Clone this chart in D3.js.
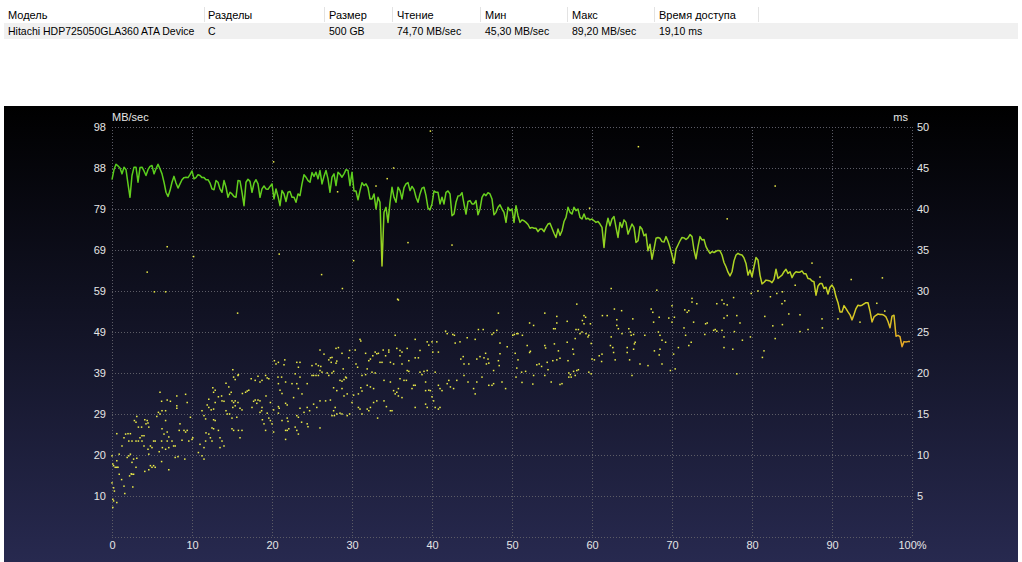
<!DOCTYPE html>
<html>
<head>
<meta charset="utf-8">
<script src="https://cdn.jsdelivr.net/npm/d3@7"></script>
<style>
  body { margin: 0; background: #fff; }
  svg text { font-family: "Liberation Sans", Arial, sans-serif; }
</style>
</head>
<body>
<div id="chart"></div>
<script>
const width = 1022;
const height = 562;
const plot = { left: 112, right: 912, top: 127, bottom: 537 };

// table data
const tableColumns = ["Модель", "Разделы", "Размер", "Чтение", "Мин", "Макс", "Время доступа"];
const tableRow = ["Hitachi HDP725050GLA360 ATA Device", "C", "500 GB", "74,70 MB/sec", "45,30 MB/sec", "89,20 MB/sec", "19,10 ms"];

// axis labels
const speedTickLabels = ["10", "20", "29", "39", "49", "59", "69", "79", "88", "98"];
const msTicks = [5, 10, 15, 20, 25, 30, 35, 40, 45, 50];
const posTicks = [0, 10, 20, 30, 40, 50, 60, 70, 80, 90, 100];

// read speed, MB/sec, one sample every 0.25 % of the disk
const readStep = 0.25;
const readSpeed = [
  85.4, 87.8, 89.1, 88.7, 88.2, 86.8, 88.4, 87.8, 84.4, 81.2,
  86.4, 88.4, 88.4, 84.8, 88.3, 88.4, 87.5, 86.4, 87.8, 88.6,
  88.8, 86.8, 88.0, 89.1, 88.0, 86.8, 84.8, 82.4, 81.4, 82.8,
  84.8, 86.2, 84.6, 83.4, 84.4, 85.4, 85.9, 86.0, 85.9, 86.6,
  87.5, 85.6, 85.9, 86.6, 86.4, 85.9, 85.9, 85.4, 85.4, 84.6,
  83.2, 83.0, 85.2, 84.8, 83.2, 82.4, 85.2, 83.6, 81.2, 82.4,
  82.0, 81.4, 81.2, 85.2, 85.1, 82.4, 79.2, 84.8, 85.5, 85.0,
  82.4, 84.6, 85.4, 84.4, 81.2, 83.2, 83.9, 83.2, 83.1, 83.8,
  84.4, 80.8, 83.2, 81.4, 79.2, 82.8, 82.0, 80.2, 82.4, 82.6,
  81.2, 81.2, 80.0, 82.0, 81.6, 84.4, 86.6, 86.0, 85.2, 84.8,
  87.1, 86.2, 87.2, 85.6, 87.6, 84.4, 86.2, 87.6, 85.6, 82.4,
  86.0, 86.8, 84.0, 87.2, 86.7, 86.0, 86.8, 87.8, 87.6, 84.0,
  87.2, 82.7, 82.7, 80.6, 82.8, 84.7, 84.0, 84.4, 83.5, 80.8,
  80.8, 82.0, 78.4, 81.2, 80.0, 64.8, 77.6, 78.8, 75.2, 80.0,
  83.6, 81.2, 80.0, 83.6, 82.8, 80.8, 83.5, 84.4, 84.7, 82.8,
  83.8, 83.1, 81.2, 80.0, 82.0, 83.4, 83.6, 81.6, 78.6, 78.2,
  79.6, 82.7, 82.4, 82.4, 79.6, 81.2, 79.6, 82.4, 82.7, 82.0,
  76.8, 77.2, 80.0, 81.5, 81.6, 82.3, 79.6, 77.2, 80.2, 80.4,
  79.6, 79.6, 80.4, 77.0, 78.4, 81.2, 82.0, 81.6, 82.3, 82.0,
  80.8, 77.0, 77.6, 78.8, 79.4, 78.4, 77.6, 75.2, 78.8, 78.0,
  78.4, 75.2, 79.2, 76.8, 75.2, 75.8, 75.6, 75.2, 74.7, 73.8,
  74.0, 73.8, 73.8, 73.0, 73.6, 73.6, 73.0, 74.0, 74.8, 75.0,
  73.8, 72.6, 71.6, 73.6, 72.1, 73.2, 75.4, 76.4, 78.8, 77.6,
  77.2, 78.8, 78.0, 78.4, 76.4, 76.0, 77.2, 76.0, 76.2, 75.8,
  76.0, 75.6, 75.2, 75.4, 74.8, 74.0, 69.2, 74.0, 76.2, 74.4,
  76.0, 76.6, 74.0, 71.6, 75.2, 74.0, 75.8, 75.2, 72.4, 73.6,
  74.8, 74.0, 70.4, 70.8, 74.2, 73.6, 72.0, 72.4, 68.4, 70.0,
  66.4, 68.8, 71.4, 71.6, 71.4, 70.6, 70.5, 71.8, 70.7, 69.2,
  67.4, 65.4, 68.8, 69.8, 70.8, 71.6, 71.5, 71.1, 71.5, 72.3,
  71.8, 68.6, 66.5, 69.4, 71.8, 71.0, 71.1, 69.4, 68.5, 67.8,
  68.2, 68.0, 68.3, 68.5, 68.4, 67.4, 65.6, 64.6, 63.3, 62.4,
  63.4, 66.0, 67.4, 67.8, 67.5, 67.4, 66.7, 65.4, 62.6, 63.8,
  62.2, 64.6, 66.8, 66.2, 62.6, 60.5, 60.9, 61.4, 61.3, 61.2,
  60.8, 61.6, 64.0, 61.8, 62.2, 62.6, 63.4, 64.0, 63.0, 63.4,
  62.0, 62.9, 63.4, 63.3, 63.3, 63.6, 62.9, 62.9, 61.8, 61.7,
  61.2, 61.0, 57.8, 60.0, 60.6, 60.6, 59.4, 59.7, 58.1, 59.7,
  60.2, 59.4, 57.4, 56.0, 53.8, 53.8, 55.3, 54.6, 53.8, 53.1,
  51.9, 53.2, 54.6, 55.4, 55.3, 55.4, 55.7, 56.0, 56.0, 54.0,
  51.4, 52.6, 53.0, 53.3, 53.2, 53.2, 53.0, 52.6, 51.5, 50.0,
  52.8, 53.0, 48.0, 48.2, 47.9, 45.5, 46.7, 46.6, 46.7, 46.7
];

// access time samples: [position %, ms]
const accessTimes = [
  [0,9.9],[0.1,8.9],[0.2,8.7],[0.4,8.5],[0.6,8.5],[0.75,8.5],[0,6.6],[0.2,6.0],[0.3,5.6],[0.6,9.3],
  [0.9,7.65],[1.2,7.0],[1.5,6.2],[1.6,5.3],[0.1,4.6],[0.2,4.4],[0.6,4.2],[0.1,3.6],[0.9,10.1],[0.6,12.6],
  [1.25,11.1],[1.5,12.1],[1.9,9.7],[2.1,9.9],[2.3,10.1],[2.5,9.1],[2.7,9.5],[2.4,7.7],[2.5,7.65],[2.2,7.45],
  [2.7,7.65],[3.0,8.5],[3.1,9.6],[2.6,6.1],[1.7,12.55],[2.0,12.6],[2.3,12.6],[2.1,11.7],[2.5,11.7],[2.8,14.2],
  [3.0,14.0],[3.3,13.4],[3.7,13.4],[3.1,14.7],[3.5,12.1],[3.3,11.7],[3.0,11.7],[3.75,12.35],[4.0,12.35],[4.0,11.1],
  [3.75,11.7],[4.1,14.3],[4.4,14.2],[4.5,13.9],[4.25,13.8],[4.6,13.4],[4.8,11.1],[5.0,10.9],[4.5,10.7],[4.6,10.1],
  [5.2,11.7],[5.4,11.7],[4.8,8.7],[5.0,8.5],[5.2,8.7],[5.4,8.5],[4.6,8.2],[4.1,8.0],[5.6,14.7],[5.8,15.2],
  [6.0,15.0],[6.25,15.4],[6.7,15.4],[6.2,16.55],[6.9,16.7],[7.3,16.55],[6.0,17.65],[6.7,14.2],[6.25,13.2],[6.5,12.55],
  [6.9,12.8],[6.2,11.7],[6.9,11.7],[7.1,12.2],[7.5,11.7],[6.3,10.9],[6.7,10.7],[7.1,10.9],[7.7,11.1],[7.9,11.1],
  [5.9,10.4],[6.2,9.2],[7.1,8.2],[7.9,9.7],[8.25,9.8],[9.1,9.5],[8.1,16.0],[8.1,15.7],[8.1,17.2],[9.2,17.4],
  [9.4,16.4],[8.5,13.8],[8.4,13.0],[9.0,13.0],[9.2,12.8],[9.4,13.0],[9.6,11.7],[8.75,11.8],[10.0,11.9],[9.8,14.6],
  [10.1,12.1],[10.8,10.3],[11.25,9.9],[11.5,9.5],[11.0,11.3],[11.5,10.9],[11.7,11.7],[11.75,12.7],[12.1,12.55],[12.3,12.1],
  [12.5,11.7],[11.5,14.8],[11.7,14.4],[11.25,15.4],[11.9,16.1],[12.1,15.8],[12.4,15.5],[12.7,15.6],[12.7,14.3],[12.9,14.2],
  [12.5,13.3],[12.7,13.2],[13.3,13.0],[13.5,12.1],[13.75,11.7],[14.0,11.1],[13.5,10.9],[12.1,16.8],[12.9,16.4],[13.3,17.1],
  [13.75,16.6],[14.0,16.55],[12.6,18.2],[12.7,17.65],[12.9,17.9],[13.7,17.2],[14.25,18.75],[14.6,18.3],[14.9,17.65],[14.7,17.4],
  [15.0,16.6],[15.2,16.4],[15.4,16.6],[14.25,15.4],[14.4,15.0],[14.7,15.0],[15.0,14.5],[15.1,15.8],[15.4,16.0],[15.6,14.6],
  [15.8,13.0],[16.25,13.0],[16.0,12.1],[15.0,13.2],[15.2,13.0],[15.75,16.4],[16.0,15.7],[16.25,15.5],[15.4,19.2],[15.2,19.5],
  [15.1,20.4],[15.8,19.8],[15.75,19.7],[16.3,17.5],[16.7,17.65],[16.9,17.8],[17.1,17.9],[17.4,19.3],[17.5,15.8],[17.7,16.55],
  [17.9,16.7],[18.25,16.7],[18.1,16.3],[18.5,16.6],[18.75,15.8],[18.5,15.2],[18.7,15.4],[18.8,14.3],[19.0,13.8],[19.4,15.1],
  [19.6,14.5],[19.8,14.2],[20.0,13.8],[20.2,12.8],[19.2,13.0],[17.9,19.1],[18.25,19.6],[18.5,18.9],[18.75,19.1],[19.2,19.7],
  [19.4,19.4],[19.6,19.3],[19.25,17.2],[19.8,16.4],[20.2,15.5],[20.3,21.5],[20.5,21.1],[20.8,21.3],[21.6,21.6],[21.5,21.0],
  [20.75,19.5],[21.2,19.5],[20.8,18.7],[21.0,17.9],[21.25,17.5],[21.7,18.9],[20.8,15.9],[20.9,15.7],[20.8,15.1],[21.7,16.3],
  [21.9,16.1],[21.25,14.2],[21.9,14.5],[22.0,14.1],[21.7,13.0],[21.9,13.0],[21.7,11.9],[22.1,13.2],[22.5,18.7],[22.7,17.0],
  [22.9,19.9],[23.1,21.3],[23.5,21.3],[23.3,20.7],[23.5,19.5],[23.1,18.7],[23.3,18.1],[23.75,17.45],[23.5,15.7],[23.1,14.8],
  [23.3,14.6],[22.9,13.4],[23.1,13.0],[23.3,12.55],[23.7,14.0],[24.0,15.2],
  [25.0,20.9],[25.5,21.1],[25.8,20.9],[26.1,20.8],[26.0,22.8],[26.5,22.3],[27.1,21.6],[27.3,21.85],[27.4,21.3],[27.5,21.9],
  [27.7,20.2],[27.5,20.0],[28.0,23.0],[28.3,23.1],[28.1,21.45],[28.0,21.2],[28.75,22.4],[28.9,20.5],[29.2,19.5],[29.3,19.4],
  [29.6,21.85],[29.7,22.75],[30.4,22.8],[30.5,21.1],[30.7,20.7],[31.0,24.1],[31.1,23.9],[31.7,22.4],[32.1,21.5],[32.3,21.7],
  [32.6,22.1],[32.9,22.55],[33.1,22.35],[33.3,22.4],[33.5,21.3],[33.75,21.3],[33.9,22.8],[34.2,22.1],[34.6,22.8],[34.6,22.55],
  [34.8,21.3],[35.2,21.1],[35.4,24.6],[35.6,23.0],[36.0,22.75],[36.25,22.55],[36.9,23.0],[36.0,22.1],[36.25,21.1],[37.1,21.5],
  [37.9,24.1],[37.9,21.85],[38.3,21.85],[38.5,22.75],[39.4,23.8],[39.6,23.4],[40.0,23.8],[40.1,22.55],[40.6,23.8],[40.8,22.55],
  [41.7,25.1],[41.9,24.8],[42.6,24.7],[42.8,24.6],[42.9,23.65],[43.5,23.8],[43.6,21.7],[43.9,22.0],[44.0,21.1],[44.4,24.3],
  [44.6,21.1],[45.4,24.1],[45.6,21.7],[45.8,25.3],[46.0,22.0],[46.4,25.3],[46.5,21.85],[46.7,22.4],[46.8,21.1],[47.1,21.2],
  [47.5,24.7],[47.7,24.9],[48.1,25.2],[48.5,23.65],[48.5,22.35],[48.3,21.5],[48.4,20.9],[47.7,20.3],[47.0,21.7],[49.4,23.2],
  [48.3,27.3],[35.8,28.9],
  [24.4,18.7],[25.0,19.7],[25.2,19.7],[25.5,19.7],[25.8,19.7],[26.0,20.3],[26.25,20.1],[26.9,20.0],[27.1,19.7],[28.5,19.1],
  [28.75,19.0],[29.0,19.2],[27.7,18.2],[28.1,17.85],[28.75,18.1],[29.0,17.2],[29.4,17.45],[30.2,17.3],[30.8,17.45],[31.25,17.8],
  [31.1,18.2],[31.7,19.8],[31.9,20.5],[32.5,20.1],[32.9,20.0],[31.25,19.7],[31.9,18.5],[32.3,18.3],[32.7,18.1],[34.0,19.1],
  [34.8,18.9],[35.2,17.85],[35.6,17.65],[35.8,18.1],[35.4,17.45],[36.0,19.3],[36.5,19.1],[36.8,19.1],[36.9,20.3],[37.1,20.2],
  [37.5,18.1],[37.7,18.5],[37.9,18.5],[38.5,20.1],[39.0,20.2],[39.4,20.3],[38.75,19.8],[39.2,18.9],[39.6,17.9],[39.2,17.85],
  [39.8,17.85],[40.4,20.1],[40.8,18.5],[41.0,18.1],[41.25,17.85],[41.9,18.7],[42.1,19.1],[42.3,18.3],[42.7,18.1],[43.1,19.1],
  [44.0,19.7],[44.5,18.9],[45.2,18.1],[45.6,18.9],[45.4,17.45],[46.25,19.5],[47.1,18.5],[47.5,18.5],[47.7,18.7],[48.75,18.9],
  [49.2,18.1],
  [24.4,15.8],[24.7,15.4],[25.2,16.2],[25.6,15.8],[26.0,16.6],[26.7,16.6],[27.3,16.7],[27.7,15.4],[27.9,15.8],[27.5,14.8],
  [27.8,14.8],[28.1,15.0],[28.5,15.1],[28.75,15.0],[29.4,14.8],[29.7,15.0],[30.0,16.4],[30.8,15.8],[31.0,15.6],[31.25,15.0],
  [31.9,15.6],[32.1,15.4],[32.3,15.8],[32.7,16.4],[33.1,16.6],[33.2,14.5],[34.0,16.6],[34.3,15.9],[34.8,15.4],[35.0,15.4],
  [35.8,17.2],[36.25,17.0],[37.9,15.8],[39.2,16.2],[39.4,15.8],[40.0,17.1],[40.2,16.6],[40.4,15.8],[40.8,15.6],[41.0,15.8],
  [24.4,13.8],[24.5,13.45],[26.0,13.3],
  [50.1,24.6],[50.3,24.7],[50.6,24.8],[50.75,24.8],[51.3,24.6],[52.2,26.1],[52.7,25.8],[51.9,23.35],[52.3,22.65],[52.2,22.5],
  [50.4,22.4],[50.75,21.6],[50.6,20.6],[51.2,20.1],[51.7,20.2],[50.5,19.5],[51.25,18.85],[52.6,18.65],[52.7,19.7],[53.1,21.0],
  [53.4,21.1],[53.7,20.8],[54.1,19.7],[54.4,21.3],[54.5,20.4],[54.1,23.35],[54.2,23.05],[54.1,27.3],[55.2,25.4],[55.4,25.4],
  [55.6,26.9],[55.6,26.1],[55.3,23.55],[55.8,22.7],[56.0,21.8],[55.6,21.6],[55.1,21.5],[54.9,18.9],[56.0,18.6],[56.25,18.7],
  [56.9,26.3],[56.9,23.75],[57.0,21.5],[57.1,20.0],[57.3,19.8],[57.1,19.5],[57.4,19.5],[57.7,20.2],[57.9,19.7],[58.1,20.3],
  [58.3,20.4],[57.6,22.9],[57.7,22.3],[57.9,24.2],[58.0,25.3],[58.3,25.3],[58.5,24.8],[58.75,25.0],[58.8,26.4],[59.0,26.0],
  [59.0,27.0],[59.2,26.8],[59.25,24.8],[59.5,24.4],[59.6,24.6],[59.8,26.0],[59.9,23.6],[60.0,21.7],[60.3,21.6],[59.6,20.1],
  [59.9,19.9],[61.2,21.4],[60.9,22.1],[61.25,22.3],[61.3,27.0],[61.9,27.0],[58.1,28.4],[62.4,30.3],[62.4,24.4],[62.3,23.35],
  [62.6,23.1],[62.7,22.5],[62.9,21.6],[62.8,27.8],[63.1,26.5],[63.1,25.8],[63.3,25.4],[63.7,27.6],[63.75,24.8],[64.4,23.1],
  [64.6,25.4],[64.8,25.0],[64.9,24.6],[65.2,24.7],[65.3,23.55],[65.1,26.6],[64.7,21.6],[64.4,22.5],[65.2,22.9],[65.4,23.75],
  [65.0,19.7],[66.0,21.1],[67.0,20.9],[66.6,24.6],[67.4,27.8],[67.6,27.4],[67.7,26.2],[68.1,30.1],[68.3,25.0],[68.5,24.6],
  [68.4,26.8],[68.75,24.0],[69.2,23.75],[67.8,22.7],[68.5,22.9],[68.4,22.2],[68.75,21.1],[69.6,26.7],[70.0,28.2],[70.0,26.2],
  [70.3,26.8],[70.2,22.3],[70.8,23.1],[71.5,25.5],[71.6,27.7],[71.9,27.4],[72.1,27.6],[71.7,24.6],[72.1,23.35],[72.4,23.75],
  [72.5,29.1],[72.5,28.65],[73.1,28.45],[72.7,26.2],[74.2,26.0],[74.1,24.7],[74.4,26.1],[75.2,25.2],[69.8,20.3],[70.4,20.5],
  [75.6,28.45],[76.25,28.9],[76.5,28.45],[76.9,28.3],[77.7,29.2],[76.9,27.0],[76.5,26.7],[78.1,27.0],[78.5,26.1],[75.4,25.3],
  [75.6,25.1],[76.25,25.2],[76.5,24.4],[77.8,25.05],[78.8,24.0],[79.8,24.4],[76.5,23.1],[77.6,22.9],[78.1,19.9],[79.9,29.7],
  [80.75,30.0],[82.3,29.3],[83.1,29.7],[83.8,29.9],[84.1,28.8],[83.75,28.45],[81.6,26.9],[82.6,25.75],[83.8,25.9],[84.6,27.2],
  [86.0,27.1],[82.9,24.2],[81.5,22.7],[81.3,21.9],[85.4,30.7],[86.0,25.05],[87.0,25.3],[88.75,26.6],[88.8,25.5],[88.5,31.7],
  [90.75,26.6],[92.4,31.4],[93.5,26.2],[95.6,28.5],[96.3,31.6],[96.6,27.55],
  [20.2,45.75],[6.9,35.4],[10.2,34.2],[4.4,32.3],[5.3,29.9],[6.7,29.9],[20.9,34.5],[26.2,32.0],[30.2,33.7],[28.8,30.3],
  [28.2,42.1],[33.0,42.8],[34.4,43.7],[35.2,45.0],[65.8,47.6],[59.7,40.1],[37.0,35.9],[42.5,35.6],[82.9,42.8],[76.9,38.8],
  [39.8,49.5],[35.7,29.0],[15.7,27.3],[87.5,33.4]
];

const svg = d3
  .select("#chart")
  .append("svg")
  .attr("width", width)
  .attr("height", height);

// TABLE
const colX = [8, 208, 329, 397, 485, 572, 659];
const sepX = [204, 324, 392, 480, 567, 654, 758];

svg.append("rect").attr("x", 4).attr("y", 23).attr("width", 1014).attr("height", 16).attr("fill", "#f0f0f0");

svg
  .selectAll("line.sep")
  .data(sepX)
  .enter()
  .append("line")
  .attr("class", "sep")
  .attr("x1", (d) => d + 0.5)
  .attr("x2", (d) => d + 0.5)
  .attr("y1", 7)
  .attr("y2", 22)
  .attr("stroke", "#e3e3e3");

svg
  .selectAll("text.head")
  .data(tableColumns)
  .enter()
  .append("text")
  .attr("class", "head")
  .attr("x", (d, i) => colX[i])
  .attr("y", 19)
  .attr("font-size", "11px")
  .attr("fill", "#000")
  .text((d) => d);

svg
  .selectAll("text.cell")
  .data(tableRow)
  .enter()
  .append("text")
  .attr("class", "cell")
  .attr("x", (d, i) => colX[i])
  .attr("y", 35)
  .attr("font-size", "10.5px")
  .attr("fill", "#000")
  .text((d) => d);

// PANEL
const defs = svg.append("defs");
const bg = defs
  .append("linearGradient")
  .attr("id", "bg")
  .attr("x1", 0).attr("y1", 0).attr("x2", 0).attr("y2", 1);
bg.append("stop").attr("offset", "0%").attr("stop-color", "#000000");
bg.append("stop").attr("offset", "45%").attr("stop-color", "#111223");
bg.append("stop").attr("offset", "100%").attr("stop-color", "#27294f");

svg
  .append("rect")
  .attr("x", 4)
  .attr("y", 106)
  .attr("width", 1014)
  .attr("height", height - 106)
  .attr("fill", "url(#bg)");

// SCALES
const xScale = d3.scaleLinear().domain([0, 100]).range([plot.left, plot.right]);
const speedScale = d3.scaleLinear().domain([0, 98]).range([plot.bottom, plot.top]);
const msScale = d3.scaleLinear().domain([0, 50]).range([plot.bottom, plot.top]);

const speedTickValues = speedTickLabels.map((d, i) => ((i + 1) * 98) / 10);

// GRID
const grid = svg.append("g").attr("class", "grid");
grid
  .selectAll("line.h")
  .data([0].concat(speedTickValues))
  .enter()
  .append("line")
  .attr("x1", plot.left)
  .attr("x2", plot.right)
  .attr("y1", (d) => Math.round(speedScale(d)) + 0.5)
  .attr("y2", (d) => Math.round(speedScale(d)) + 0.5)
  .attr("stroke", "#5c5c66")
  .attr("stroke-dasharray", "1,2");
grid
  .selectAll("line.v")
  .data(posTicks)
  .enter()
  .append("line")
  .attr("x1", (d) => Math.round(xScale(d)) + 0.5)
  .attr("x2", (d) => Math.round(xScale(d)) + 0.5)
  .attr("y1", plot.top)
  .attr("y2", plot.bottom)
  .attr("stroke", "#5c5c66")
  .attr("stroke-dasharray", "1,2");

// AXES
const leftAxis = d3
  .axisLeft(speedScale)
  .tickValues(speedTickValues)
  .tickSize(0)
  .tickPadding(6)
  .tickFormat((d, i) => speedTickLabels[i]);
const rightAxis = d3
  .axisRight(msScale)
  .tickValues(msTicks)
  .tickSize(0)
  .tickPadding(5)
  .tickFormat((d) => d);
const bottomAxis = d3
  .axisBottom(xScale)
  .tickValues(posTicks)
  .tickSize(0)
  .tickPadding(4)
  .tickFormat((d) => (d === 100 ? "100%" : d));

function styleAxis(g) {
  g.select(".domain").remove();
  g.selectAll("text")
    .attr("fill", "#e6e6e6")
    .style("font-family", "Liberation Sans, Arial, sans-serif")
    .style("font-size", "11px");
}

svg.append("g").attr("transform", `translate(${plot.left},0)`).call(leftAxis).call(styleAxis);
svg.append("g").attr("transform", `translate(${plot.right},0)`).call(rightAxis).call(styleAxis);
svg.append("g").attr("transform", `translate(0,${plot.bottom})`).call(bottomAxis).call(styleAxis);

svg.append("text").text("MB/sec").attr("x", plot.left).attr("y", 121)
  .attr("fill", "#e6e6e6").attr("font-size", "11px");
svg.append("text").text("ms").attr("x", 908).attr("y", 121).attr("text-anchor", "end")
  .attr("fill", "#e6e6e6").attr("font-size", "11px");

// ACCESS TIME DOTS
svg
  .append("g")
  .selectAll("rect.dot")
  .data(accessTimes)
  .enter()
  .append("rect")
  .attr("class", "dot")
  .attr("x", (d) => xScale(d[0]) - 0.75)
  .attr("y", (d) => msScale(d[1]) - 0.75)
  .attr("width", 1.5)
  .attr("height", 1.5)
  .attr("fill", "#eeee48");

// READ SPEED LINE
const lineGrad = defs
  .append("linearGradient")
  .attr("id", "lineGrad")
  .attr("gradientUnits", "userSpaceOnUse")
  .attr("x1", 0).attr("x2", 0)
  .attr("y1", speedScale(90)).attr("y2", speedScale(44));
lineGrad.append("stop").attr("offset", "0%").attr("stop-color", "#52cc1c");
lineGrad.append("stop").attr("offset", "25%").attr("stop-color", "#6ed21e");
lineGrad.append("stop").attr("offset", "50%").attr("stop-color", "#a6d424");
lineGrad.append("stop").attr("offset", "75%").attr("stop-color", "#d2d024");
lineGrad.append("stop").attr("offset", "100%").attr("stop-color", "#eaa026");

const lineGenerator = d3
  .line()
  .x((d, i) => xScale(i * readStep))
  .y((d) => speedScale(d));

svg
  .append("path")
  .attr("d", lineGenerator(readSpeed))
  .attr("fill", "none")
  .attr("stroke", "url(#lineGrad)")
  .attr("stroke-width", 1.5)
  .attr("stroke-linejoin", "round");
</script>
</body>
</html>
